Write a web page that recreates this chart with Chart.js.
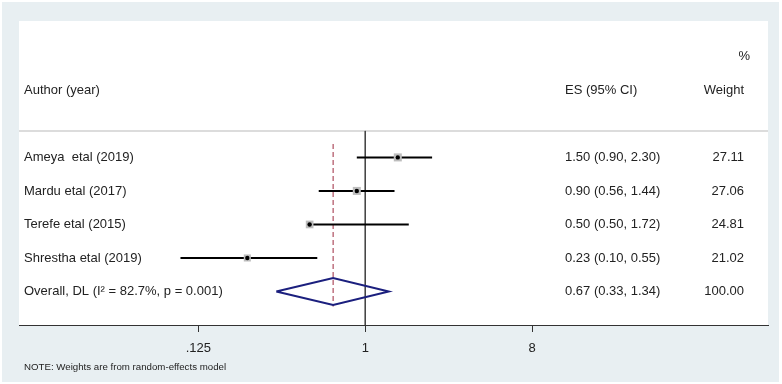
<!DOCTYPE html>
<html>
<head>
<meta charset="utf-8">
<script src="https://cdn.jsdelivr.net/npm/chart.js@4.4.0/dist/chart.umd.min.js"></script>
<style>
  html, body { margin: 0; padding: 0; background: #fff; }
  #wrap { width: 782px; height: 384px; }
</style>
</head>
<body>
<div id="wrap"><canvas id="c" width="782" height="384"></canvas></div>
<script>
const studies = ["Ameya  etal (2019)", "Mardu etal (2017)", "Terefe etal (2015)", "Shrestha etal (2019)"];
const es = [1.50, 0.90, 0.50, 0.23];
const lo = [0.90, 0.56, 0.50, 0.10];
const hi = [2.30, 1.44, 1.72, 0.55];
const esText = ["1.50 (0.90, 2.30)", "0.90 (0.56, 1.44)", "0.50 (0.50, 1.72)", "0.23 (0.10, 0.55)"];
const weights = ["27.11", "27.06", "24.81", "21.02"];

const overallLabel = "Overall, DL (I\u00b2 = 82.7%, p = 0.001)";
const overallEs = 0.67;
const overallLo = 0.33;
const overallHi = 1.34;
const overallText = "0.67 (0.33, 1.34)";
const overallWeight = "100.00";

const xTicks = [0.125, 1, 8];
const tickLabels = [".125", "1", "8"];

const TEXT = "#222";
const FONT = "Liberation Sans, Arial, sans-serif";
const overallRow = studies.length;

const ciSets = studies.map((s, i) => ({
  data: [{ x: lo[i], y: i }, { x: hi[i], y: i }],
  showLine: true,
  borderColor: "#000",
  borderWidth: 2,
  pointRadius: 0,
  order: 4
}));

const datasets = [
  {
    // null line at 1
    data: [{ x: 1, y: -0.79 }, { x: 1, y: 5 }],
    showLine: true,
    borderColor: "#444",
    borderWidth: 1,
    pointRadius: 0,
    order: 6
  },
  {
    // overall estimate line
    data: [{ x: overallEs, y: -0.4 }, { x: overallEs, y: 4.45 }],
    showLine: true,
    borderColor: "#9e2a3e",
    borderWidth: 1,
    borderDash: [5, 3],
    pointRadius: 0,
    order: 5
  },
  ...ciSets,
  {
    // weight boxes
    data: es.map((v, i) => ({ x: v, y: i })),
    pointStyle: "rect",
    pointRadius: weights.map(w => 1.09 * Math.sqrt(parseFloat(w))),
    backgroundColor: "#bdbdbd",
    borderWidth: 0,
    order: 3
  },
  {
    data: es.map((v, i) => ({ x: v, y: i })),
    pointRadius: 2.2,
    backgroundColor: "#000",
    borderWidth: 0,
    order: 1
  },
  {
    // diamond
    data: [
      { x: overallLo, y: overallRow },
      { x: overallEs, y: overallRow - 0.4 },
      { x: overallHi, y: overallRow },
      { x: overallEs, y: overallRow + 0.4 },
      { x: overallLo, y: overallRow }
    ],
    showLine: true,
    borderColor: "#1b1f7e",
    borderWidth: 2,
    pointRadius: 0,
    order: 2
  }
];

const frame = {
  id: "frame",
  beforeDraw(chart) {
    const { ctx, chartArea: a, width, height } = chart;
    ctx.save();
    ctx.fillStyle = "#fff";
    ctx.fillRect(0, 0, width, height);
    ctx.fillStyle = "#e8eff2";
    ctx.fillRect(2, 2, width - 5, height - 4);
    ctx.fillStyle = "#fff";
    ctx.fillRect(a.left, a.top, a.right - a.left, a.bottom - a.top);
    const y = chart.scales.y;
    ctx.strokeStyle = "#dcdcdc";
    ctx.lineWidth = 2;
    ctx.beginPath();
    ctx.moveTo(a.left, y.getPixelForValue(-0.79));
    ctx.lineTo(a.right, y.getPixelForValue(-0.79));
    ctx.stroke();
    ctx.restore();
  },
  afterDraw(chart) {
    const { ctx, chartArea: a } = chart;
    const y = chart.scales.y;
    const labelX = a.left + 5;
    const esX = 565;
    const wX = 744;
    ctx.save();
    ctx.fillStyle = TEXT;
    ctx.font = "13px " + FONT;
    ctx.textBaseline = "middle";

    ctx.textAlign = "left";
    ctx.fillText("Author (year)", labelX, y.getPixelForValue(-2));
    ctx.fillText("ES (95% CI)", esX, y.getPixelForValue(-2));
    ctx.textAlign = "right";
    ctx.fillText("Weight", wX, y.getPixelForValue(-2));
    ctx.fillText("%", wX + 6, y.getPixelForValue(-3));

    studies.forEach((s, i) => {
      const py = y.getPixelForValue(i);
      ctx.textAlign = "left";
      ctx.fillText(s, labelX, py);
      ctx.fillText(esText[i], esX, py);
      ctx.textAlign = "right";
      ctx.fillText(weights[i], wX, py);
    });
    const oy = y.getPixelForValue(overallRow);
    ctx.textAlign = "left";
    ctx.fillText(overallLabel, labelX, oy);
    ctx.fillText(overallText, esX, oy);
    ctx.textAlign = "right";
    ctx.fillText(overallWeight, wX, oy);

    ctx.textAlign = "left";
    ctx.font = "9.7px " + FONT;
    ctx.fillText("NOTE: Weights are from random-effects model", labelX, 367);
    ctx.restore();
  }
};

new Chart(document.getElementById("c"), {
  type: "scatter",
  data: { datasets },
  options: {
    responsive: false,
    animation: false,
    events: [],
    layout: { padding: { left: 19, right: 14, top: 21, bottom: 0 } },
    plugins: { legend: { display: false }, tooltip: { enabled: false } },
    scales: {
      x: {
        type: "logarithmic",
        min: 0.01337,
        max: 151.2,
        afterBuildTicks(scale) {
          scale.ticks = xTicks.map(v => ({ value: v }));
        },
        afterFit(scale) {
          scale.height = 59;
        },
        ticks: {
          autoSkip: false,
          maxRotation: 0,
          padding: 9,
          color: TEXT,
          font: { family: FONT, size: 13 },
          callback: v => tickLabels[xTicks.indexOf(v)] ?? ""
        },
        grid: {
          drawOnChartArea: false,
          drawTicks: true,
          tickLength: 7,
          tickColor: "#333"
        },
        border: { display: true, color: "#333", width: 1 }
      },
      y: {
        type: "linear",
        min: -4.07,
        max: 5,
        reverse: true,
        display: false
      }
    }
  },
  plugins: [frame]
});
</script>
</body>
</html>
